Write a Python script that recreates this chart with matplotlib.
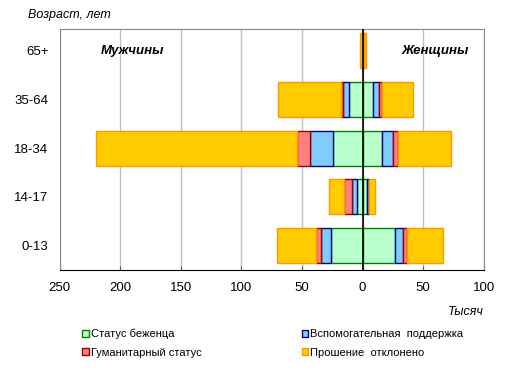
import matplotlib.pyplot as plt
import numpy as np

plt.rcParams['font.family'] = ['Liberation Sans', 'DejaVu Sans']

ages = ['0-13', '14-17', '18-34', '35-64', '65+']
series = ['Статус беженца', 'Вспомогательная  поддержка',
          'Гуманитарный статус', 'Прошение  отклонено']

# тысяч человек
men = {
    'Статус беженца':              [25.9, 5.0, 24.7, 11.0, 0.4],
    'Вспомогательная  поддержка':  [8.7, 4.1, 19.0, 5.0, 0.2],
    'Гуманитарный статус':         [3.6, 6.6, 10.5, 2.0, 0.2],
    'Прошение  отклонено':         [32.2, 11.8, 165.4, 51.6, 1.4],
}
women = {
    'Статус беженца':              [26.4, 3.8, 16.2, 8.2, 0.5],
    'Вспомогательная  поддержка':  [7.1, 1.4, 9.0, 5.5, 0.3],
    'Гуманитарный статус':         [3.3, 0.3, 3.9, 2.2, 0.2],
    'Прошение  отклонено':         [29.2, 4.7, 43.9, 25.3, 1.8],
}

fills = ['#B8FFCC', '#80CCFF', '#FF8080', '#FFCC00']
edges = ['#008000', '#000080', '#990000', '#FF9900']

fig = plt.figure(figsize=(5.10, 3.79), dpi=100)
ax = fig.add_axes([0.1167, 0.2876, 0.832, 0.637])

y = np.arange(len(ages))
left_m = np.zeros(len(ages))
left_w = np.zeros(len(ages))
handles = {}
for name, fc, ec in zip(series, fills, edges):
    m = np.array(men[name])
    w = np.array(women[name])
    h = ax.barh(y, -m, left=-left_m, height=0.72, color=fc, edgecolor=ec,
                linewidth=1.0, zorder=3, label=name)
    ax.barh(y, w, left=left_w, height=0.72, color=fc, edgecolor=ec,
            linewidth=1.0, zorder=3)
    left_m += m
    left_w += w
    handles[name] = h

ax.axvline(0, color='black', linewidth=1.2, zorder=4)
ax.set_xlim(-250, 100)
ax.set_ylim(-0.5, 4.45)
ticks = np.arange(-250, 101, 50)
ax.set_xticks(ticks)
ax.set_xticklabels([str(abs(t)) for t in ticks], fontsize=9.5)
ax.set_yticks(y)
ax.set_yticklabels(ages, fontsize=9.5)
ax.tick_params(axis='y', length=0, pad=8)
ax.tick_params(axis='x', length=3, direction='in', pad=9, colors='#555555',
               labelcolor='black')
ax.xaxis.grid(True, color='#C0C0C0', linewidth=1.0, zorder=0)
ax.set_axisbelow(True)
for s in ['top', 'left', 'right']:
    ax.spines[s].set_color('#888888')
ax.spines['bottom'].set_color('black')

ax.text(-190, 4.0, 'Мужчины', fontsize=9.5, fontweight='bold', style='italic',
        ha='center', va='center')
ax.text(60, 4.0, 'Женщины', fontsize=9.5, fontweight='bold', style='italic',
        ha='center', va='center')

fig.text(0.055, 0.96, 'Возраст, лет', fontsize=9, style='italic',
         ha='left', va='center')
fig.text(0.948, 0.177, 'Тысяч', fontsize=9, style='italic',
         ha='right', va='center')

order = [series[0], series[2], series[1], series[3]]
fig.legend([handles[n] for n in order], order, loc='upper left',
           bbox_to_anchor=(0.152, 0.144), ncol=2, frameon=False, fontsize=8,
           handlelength=0.6, handleheight=0.6, handletextpad=0.2,
           columnspacing=9.0, labelspacing=0.75, borderaxespad=0)

fig.savefig('out.png', dpi=100)
